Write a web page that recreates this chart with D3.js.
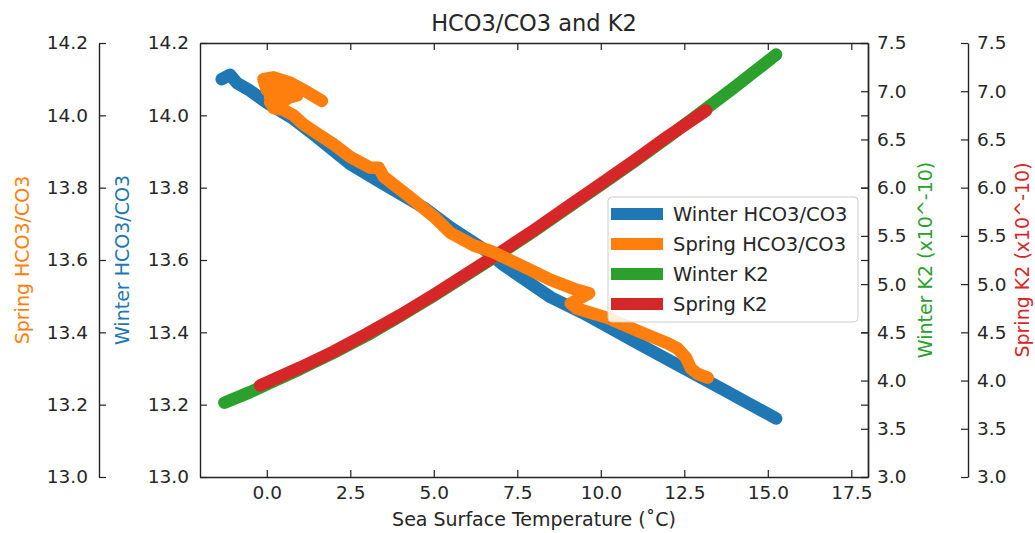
<!DOCTYPE html>
<html>
<head>
<meta charset="utf-8">
<script src="https://cdn.jsdelivr.net/npm/d3@7"></script>
<style>
  body { margin: 0; background: #fff; }
  text { font-family: "DejaVu Sans", sans-serif; fill: #262626; }
</style>
</head>
<body>
<div id="chart"></div>
<script>
// HCO3/CO3 and K2 vs sea surface temperature, four y axes

var xTicks = [0, 2.5, 5, 7.5, 10, 12.5, 15, 17.5];
var hco3Ticks = [13.0, 13.2, 13.4, 13.6, 13.8, 14.0, 14.2];
var k2Ticks = [3.0, 3.5, 4.0, 4.5, 5.0, 5.5, 6.0, 6.5, 7.0, 7.5];

// winter HCO3/CO3
var winterTemp = [-1.35, -1.1, -0.9, -0.5, 0.0, 0.8, 1.5, 2.5, 3.4, 4.7, 5.5, 6.5, 7.1, 8.5, 9.5, 11.0, 12.5, 13.8, 15.25];
var winterHCO3 = [14.10, 14.112, 14.09, 14.068, 14.035, 13.99, 13.94, 13.865, 13.815, 13.745, 13.69, 13.63, 13.585, 13.497, 13.452, 13.375, 13.30, 13.235, 13.162];

// spring HCO3/CO3
var springTemp = [1.65, 1.2, 0.7, 0.2, -0.1, 0.0, 0.7, 0.1, 0.9, 0.1, 0.6, 0.2, 0.5, 0.8, 1.1, 1.5, 2.0, 2.5, 3.1, 3.35, 3.5, 4.2, 5.0, 5.5, 6.2, 6.7, 7.5, 8.5, 9.2, 9.65, 9.1, 9.3, 10.2, 11.2, 12.0, 12.3, 12.55, 12.7, 12.9, 13.2];
var springHCO3 = [14.04, 14.065, 14.09, 14.105, 14.10, 14.07, 14.08, 14.05, 14.055, 14.035, 14.045, 14.02, 14.015, 14.0, 13.975, 13.95, 13.92, 13.885, 13.855, 13.855, 13.83, 13.78, 13.72, 13.675, 13.64, 13.625, 13.59, 13.545, 13.52, 13.508, 13.48, 13.465, 13.44, 13.40, 13.37, 13.355, 13.33, 13.30, 13.285, 13.275];

// winter K2 (x10^-10)
var winterK2Temp = [-1.27, -0.5, 0, 1, 2, 3, 4, 5, 6, 7, 8, 9, 10, 11, 12, 13, 14, 15.25];
var winterK2 = [3.77, 3.88, 3.96, 4.12, 4.29, 4.47, 4.67, 4.88, 5.10, 5.32, 5.55, 5.79, 6.03, 6.27, 6.52, 6.78, 7.04, 7.38];

// spring K2 (x10^-10)
var springK2Temp = [-0.2, 0, 1, 2, 3, 4, 5, 6, 7, 8, 9, 10, 11, 12, 13.15];
var springK2 = [3.95, 3.98, 4.135, 4.30, 4.485, 4.68, 4.89, 5.11, 5.33, 5.56, 5.80, 6.04, 6.28, 6.53, 6.80];

var colors = { blue: "#1f77b4", orange: "#ff7f0e", green: "#2ca02c", red: "#d62728" };

var svgWidth = 1035, svgHeight = 533;
var plot = { left: 200, right: 868, top: 43, bottom: 477 };
var outerLeft = 99, outerRight = 968;
var lw = 12.5;

var svg = d3.select("#chart").append("svg")
  .attr("width", svgWidth)
  .attr("height", svgHeight);

var xScale = d3.scaleLinear().domain([-2, 18]).range([plot.left, plot.right]);
var hco3Scale = d3.scaleLinear().domain([13.0, 14.2]).range([plot.bottom, plot.top]);
var k2Scale = d3.scaleLinear().domain([3.0, 7.5]).range([plot.bottom, plot.top]);

var fmt = d3.format(".1f");

// lines
function zip(xs, ys) { return xs.map((x, i) => [x, ys[i]]); }

var lineH = d3.line().x(d => xScale(d[0])).y(d => hco3Scale(d[1]));
var lineK = d3.line().x(d => xScale(d[0])).y(d => k2Scale(d[1]));

var series = [
  { pts: zip(winterTemp, winterHCO3), line: lineH, color: colors.blue },
  { pts: zip(winterK2Temp, winterK2), line: lineK, color: colors.green },
  { pts: zip(springK2Temp, springK2), line: lineK, color: colors.red },
  { pts: zip(springTemp, springHCO3), line: lineH, color: colors.orange }
];

svg.append("g").selectAll("path")
  .data(series)
  .enter()
  .append("path")
  .attr("d", d => d.line(d.pts))
  .attr("fill", "none")
  .attr("stroke", d => d.color)
  .attr("stroke-width", lw)
  .attr("stroke-linecap", "round")
  .attr("stroke-linejoin", "round");

// axes (ticks pointing inward, classic style)
function styleAxis(g) {
  g.selectAll("path.domain").attr("stroke", "#222").attr("stroke-width", 1.4);
  g.selectAll(".tick line").attr("stroke", "#222").attr("stroke-width", 1.2);
  g.selectAll(".tick text").attr("font-size", "18.5px").attr("fill", "#262626")
    .attr("font-family", "DejaVu Sans, sans-serif");
}

// bottom x axis
svg.append("g")
  .attr("transform", `translate(0,${plot.bottom})`)
  .call(d3.axisBottom(xScale).tickValues(xTicks).tickFormat(fmt).tickSize(-7).tickSizeOuter(0).tickPadding(9))
  .call(styleAxis);

// top spine
svg.append("g")
  .attr("transform", `translate(0,${plot.top})`)
  .call(d3.axisTop(xScale).tickValues(xTicks).tickFormat("").tickSize(-7).tickSizeOuter(0))
  .call(styleAxis);

// inner left (winter HCO3/CO3)
svg.append("g")
  .attr("transform", `translate(${plot.left},0)`)
  .call(d3.axisLeft(hco3Scale).tickValues(hco3Ticks).tickFormat(fmt).tickSize(-7).tickSizeOuter(0).tickPadding(11))
  .call(styleAxis);

// right spine of main axes, HCO3 ticks without labels
svg.append("g")
  .attr("transform", `translate(${plot.right},0)`)
  .call(d3.axisRight(hco3Scale).tickValues(hco3Ticks).tickFormat("").tickSize(-7).tickSizeOuter(0))
  .call(styleAxis);

// inner right (winter K2)
svg.append("g")
  .attr("transform", `translate(${plot.right},0)`)
  .call(d3.axisRight(k2Scale).tickValues(k2Ticks).tickFormat(fmt).tickSize(-7).tickSizeOuter(0).tickPadding(9))
  .call(styleAxis);

// outer left (spring HCO3/CO3)
svg.append("g")
  .attr("transform", `translate(${outerLeft},0)`)
  .call(d3.axisLeft(hco3Scale).tickValues(hco3Ticks).tickFormat(fmt).tickSize(-7).tickSizeOuter(0).tickPadding(11))
  .call(styleAxis);

// outer right (spring K2)
svg.append("g")
  .attr("transform", `translate(${outerRight},0)`)
  .call(d3.axisRight(k2Scale).tickValues(k2Ticks).tickFormat(fmt).tickSize(-7).tickSizeOuter(0).tickPadding(9))
  .call(styleAxis);

// title and axis labels
var midX = (plot.left + plot.right) / 2;
var midY = (plot.top + plot.bottom) / 2;

svg.append("text")
  .attr("x", midX).attr("y", 31)
  .attr("text-anchor", "middle")
  .attr("font-size", "22.5px")
  .text("HCO3/CO3 and K2");

svg.append("text")
  .attr("x", midX).attr("y", 526)
  .attr("text-anchor", "middle")
  .attr("font-size", "19px")
  .text("Sea Surface Temperature (˚C)");

var yLabels = [
  { x: 29, text: "Spring HCO3/CO3", color: colors.orange },
  { x: 129, text: "Winter HCO3/CO3", color: colors.blue },
  { x: 932, text: "Winter K2 (x10^-10)", color: colors.green },
  { x: 1029, text: "Spring K2 (x10^-10)", color: colors.red }
];

svg.selectAll(".ylabel")
  .data(yLabels)
  .enter()
  .append("text")
  .attr("class", "ylabel")
  .attr("transform", d => `translate(${d.x},${midY}) rotate(-90)`)
  .attr("text-anchor", "middle")
  .attr("font-size", "19px")
  .style("fill", d => d.color)
  .text(d => d.text);

// legend
var legendItems = [
  { label: "Winter HCO3/CO3", color: colors.blue },
  { label: "Spring HCO3/CO3", color: colors.orange },
  { label: "Winter K2", color: colors.green },
  { label: "Spring K2", color: colors.red }
];

var legend = svg.append("g").attr("transform", "translate(608,197)");
legend.append("rect")
  .attr("width", 250).attr("height", 125)
  .attr("rx", 4)
  .attr("fill", "white").attr("fill-opacity", 0.85)
  .attr("stroke", "#cccccc").attr("stroke-width", 1);

var rows = legend.selectAll(".row")
  .data(legendItems)
  .enter()
  .append("g")
  .attr("transform", (d, i) => `translate(0,${17 + i * 30})`);

rows.append("line")
  .attr("x1", 3).attr("x2", 55)
  .attr("stroke", d => d.color)
  .attr("stroke-width", 12);

rows.append("text")
  .attr("x", 65).attr("y", 7)
  .attr("font-size", "19.5px")
  .text(d => d.label);
</script>
</body>
</html>
